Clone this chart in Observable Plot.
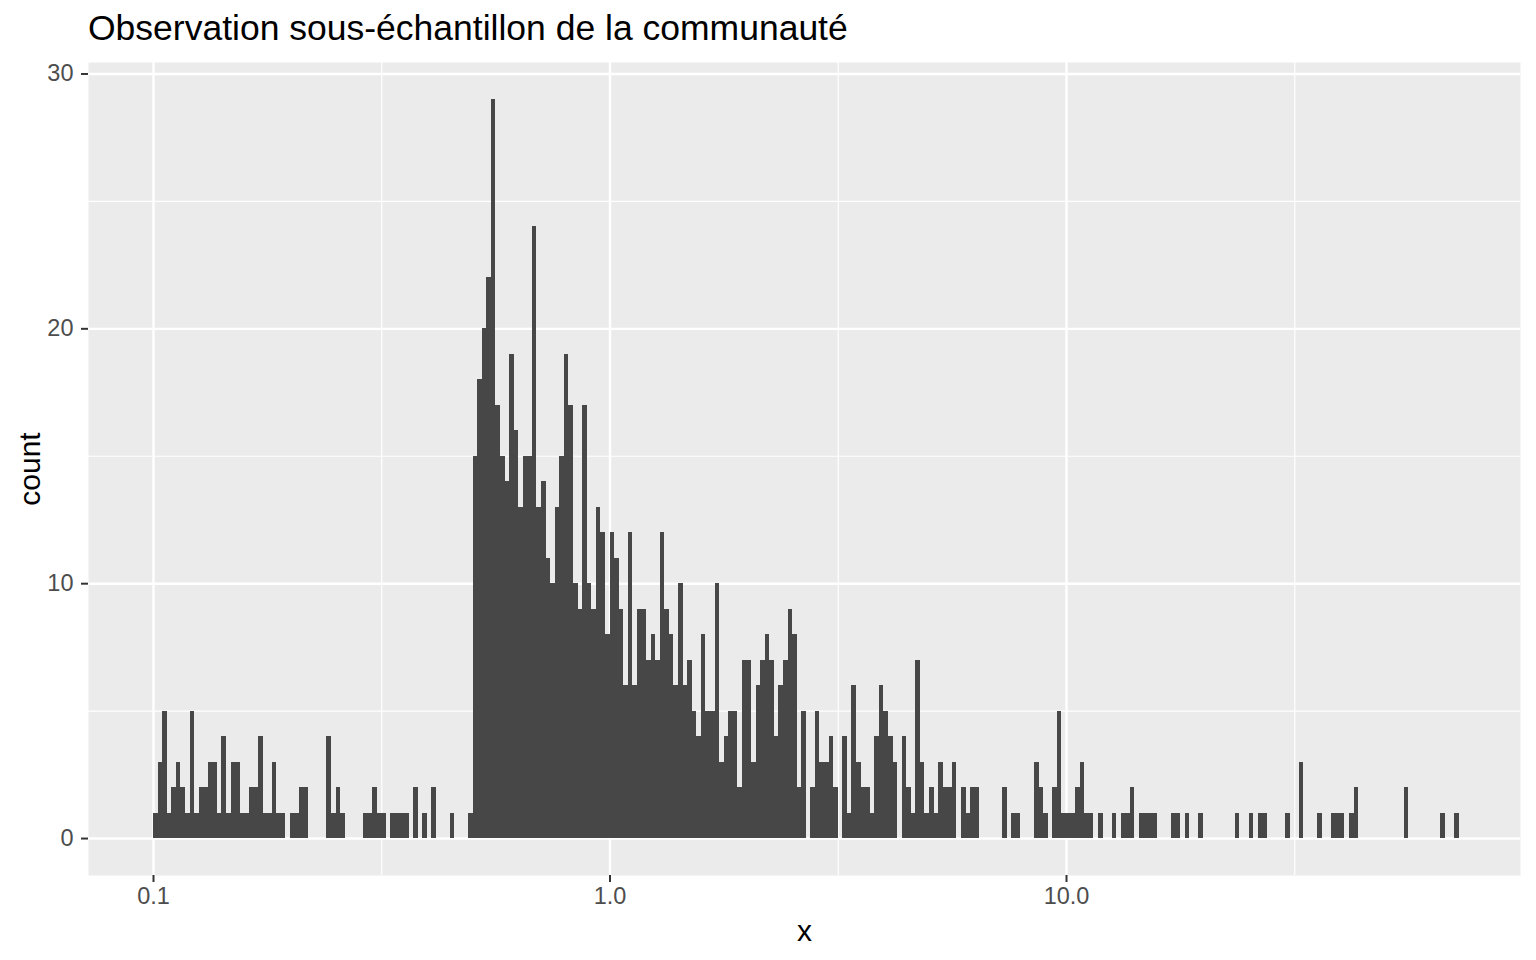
<!DOCTYPE html>
<html><head><meta charset="utf-8">
<script src="https://cdn.jsdelivr.net/npm/d3@7"></script>
<script src="https://cdn.jsdelivr.net/npm/@observablehq/plot@0.6"></script>
<style>
body{margin:0;background:#fff;font-family:"Liberation Sans",Arial,Helvetica,sans-serif;}
#title{height:55px;box-sizing:border-box;padding-left:88px;padding-top:11px;font-size:35.5px;line-height:35.5px;color:#000;white-space:nowrap;}
#chart svg{display:block;}
</style></head><body>
<div id="title">Observation sous-échantillon de la communauté</div>
<div id="chart"></div>
<script>
// Histogram bins on a log10 axis: first bin starts at log10(x) = -1, each bin 0.01 wide
const binStartLog10 = -1;
const binWidthLog10 = 0.01;
const counts = [
  1,3,5,1,2,3,2,1,5,1,
  2,2,3,3,1,4,1,3,3,1,
  1,2,2,4,1,1,3,1,1,0,
  1,1,2,2,0,0,0,0,4,1,
  2,1,0,0,0,0,1,1,2,1,
  1,0,1,1,1,1,0,2,0,1,
  0,2,0,0,0,1,0,0,0,1,
  15,18,20,22,29,17,15,14,19,16,
  13,15,15,24,13,14,11,10,13,15,
  19,17,10,9,17,10,9,13,12,8,
  12,11,9,6,12,6,9,9,7,8,
  7,12,9,8,6,10,6,7,5,4,
  8,5,5,10,3,4,5,5,2,7,
  7,3,6,7,8,7,4,6,7,9,
  8,2,5,0,2,5,3,3,4,2,
  0,4,1,6,3,2,2,1,4,6,
  5,4,3,0,4,2,1,7,3,1,
  2,1,3,2,2,3,0,2,1,2,
  2,0,0,0,0,0,2,0,1,1,
  0,0,0,3,2,1,0,2,5,1,
  1,1,2,3,1,1,0,1,0,0,
  1,0,1,1,2,0,1,1,1,1,
  0,0,0,1,1,0,1,0,0,1,
  0,0,0,0,0,0,0,1,0,0,
  1,0,1,1,0,0,0,0,1,0,
  0,3,0,0,0,1,0,0,1,1,
  1,0,1,2,0,0,0,0,0,0,
  0,0,0,0,2,0,0,0,0,0,
  0,0,1,0,0,1
];
const xTicks = [0.1, 1, 10];
const xMinorLog10 = [-0.5, 0.5, 1.5];
const yTicks = [0, 10, 20, 30];
const yMinor = [5, 15, 25];
const titleText = "Observation sous-échantillon de la communauté";
const xLabel = "x";
const yLabel = "count";

const bins = counts
  .map((c, i) => ({
    x1: Math.pow(10, binStartLog10 + i * binWidthLog10),
    x2: Math.pow(10, binStartLog10 + (i + 1) * binWidthLog10),
    count: c
  }))
  .filter(d => d.count > 0);
const xMinor = xMinorLog10.map(v => Math.pow(10, v));

const chart = Plot.plot({
  width: 1536,
  height: 905,
  marginLeft: 88,
  marginRight: 16,
  marginTop: 7,
  marginBottom: 85,
  style: {fontFamily: '"Liberation Sans", Arial, Helvetica, sans-serif', background: "white", overflow: "visible"},
  x: {type: "log", domain: [Math.pow(10, -1.1424), Math.pow(10, 1.9945)]},
  y: {domain: [-1.45, 30.45]},
  marks: [
    Plot.frame({fill: "#EBEBEB", stroke: "none"}),
    Plot.ruleX(xMinor, {stroke: "white", strokeWidth: 1.2}),
    Plot.ruleY(yMinor, {stroke: "white", strokeWidth: 1.2}),
    Plot.ruleX(xTicks, {stroke: "white", strokeWidth: 2.4}),
    Plot.ruleY(yTicks, {stroke: "white", strokeWidth: 2.4}),
    Plot.rect(bins, {x1: "x1", x2: "x2", y1: 0, y2: "count", fill: "#474747", shapeRendering: "crispEdges"}),
    Plot.axisX({ticks: xTicks, tickFormat: d => d.toFixed(1), tickSize: 7, tickPadding: 5, color: "#4D4D4D", stroke: "#333333", strokeWidth: 2, fontSize: 23.5, label: null}),
    Plot.axisY({ticks: yTicks, tickFormat: d => String(d), tickSize: 7, tickPadding: 8, color: "#4D4D4D", stroke: "#333333", strokeWidth: 2, fontSize: 23.5, label: null}),
    Plot.text([xLabel], {text: d => d, frameAnchor: "bottom", lineAnchor: "middle", textAnchor: "middle", dy: 56, fontSize: 30, fill: "black"}),
    Plot.text([yLabel], {text: d => d, frameAnchor: "left", lineAnchor: "middle", textAnchor: "middle", dx: -58, rotate: -90, fontSize: 30, fill: "black"})
  ]
});
document.getElementById("title").textContent = titleText;
document.getElementById("chart").appendChild(chart);
</script>
</body></html>
